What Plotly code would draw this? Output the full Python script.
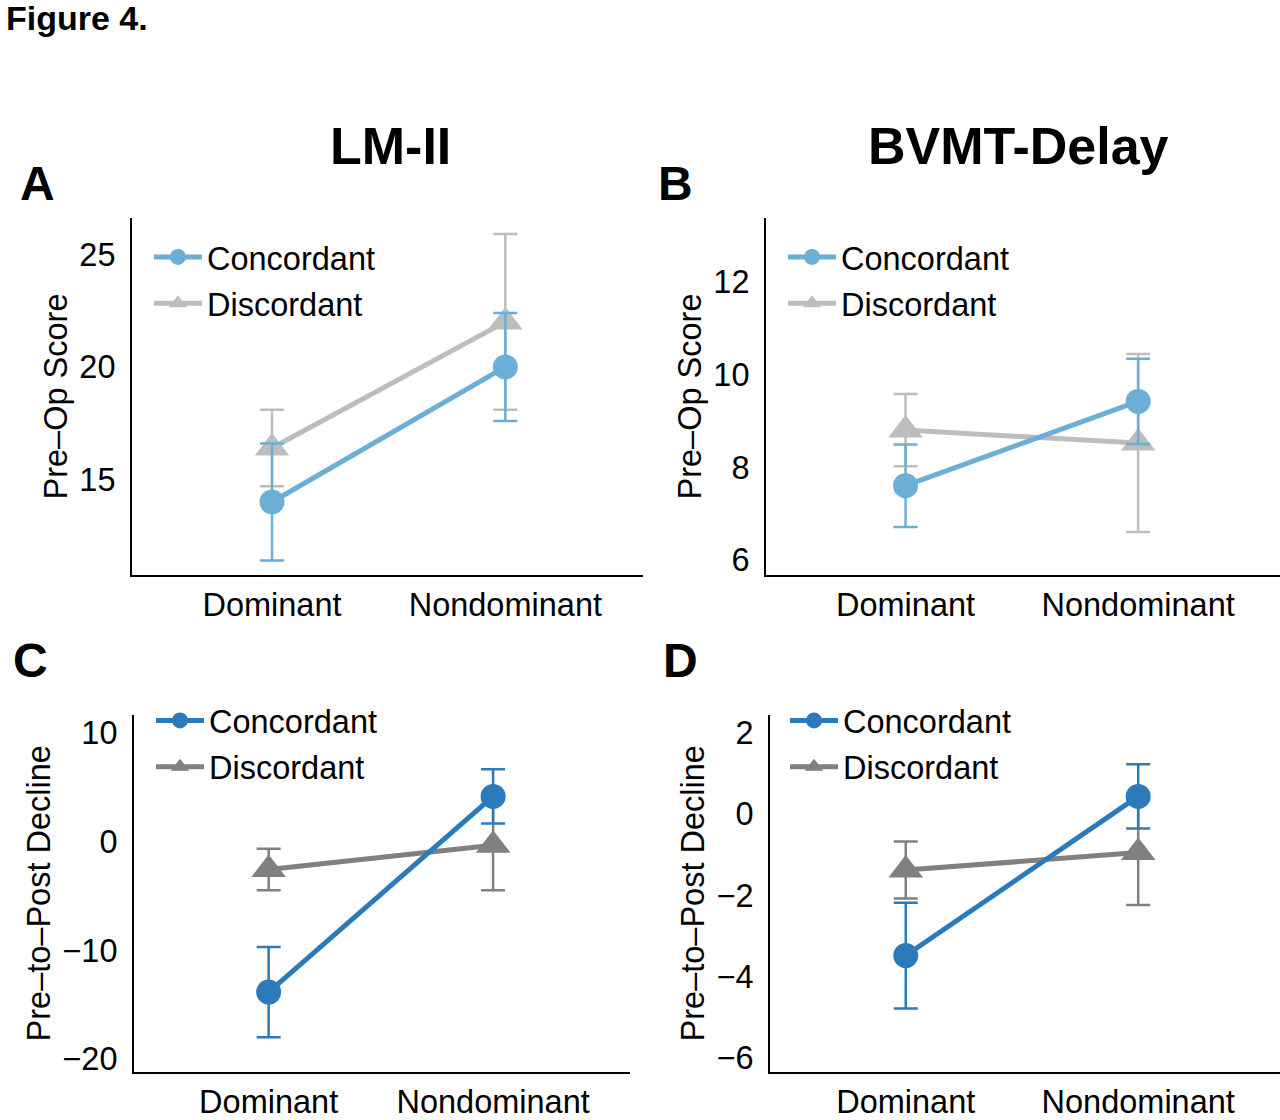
import plotly.graph_objects as go
from plotly.subplots import make_subplots

# data (mean and error bar half-width)
sides = ['Dominant', 'Nondominant']
groups = ['Concordant', 'Discordant']

lm_pre_conc = [14.0, 20.0]
lm_pre_conc_err = [2.6, 2.4]
lm_pre_disc = [16.4, 22.0]
lm_pre_disc_err = [1.7, 3.9]

bv_pre_conc = [7.6, 9.42]
bv_pre_conc_err = [0.89, 0.92]
bv_pre_disc = [8.8, 8.52]
bv_pre_disc_err = [0.78, 1.92]

lm_dec_conc = [-13.85, 4.17]
lm_dec_conc_err = [4.15, 2.5]
lm_dec_disc = [-2.56, -0.32]
lm_dec_disc_err = [1.92, 4.16]

bv_dec_conc = [-3.48, 0.43]
bv_dec_conc_err = [1.3, 0.79]
bv_dec_disc = [-1.38, -0.95]
bv_dec_disc_err = [0.7, 1.29]

ticks_a = [15, 20, 25]
ticks_b = [6, 8, 10, 12]
ticks_c = [-20, -10, 0, 10]
ticks_d = [-6, -4, -2, 0, 2]

LIGHT_BLUE = '#6BAED6'
LIGHT_GRAY = '#BDBDBD'
DARK_BLUE = '#2B7BBA'
DARK_GRAY = '#808080'

FONT = 'Liberation Sans, Arial, sans-serif'
FS = 32.5
W, H = 1280, 1120


def px(p):
    return p / W


def py(p):
    # small stretch so the rows land where the reference has them
    return 1 - min(p * 1.006, H) / H


fig = make_subplots(rows=2, cols=2)


def add_pair(row, col, conc, conc_err, disc, disc_err, c_col, d_col, legend):
    fig.add_trace(go.Scatter(
        x=sides, y=disc, name=groups[1], mode='lines+markers',
        line=dict(color=d_col, width=5),
        marker=dict(symbol='triangle-up', size=30, color=d_col),
        error_y=dict(type='data', array=disc_err, color=d_col, thickness=2.5, width=12),
        legend=legend, legendrank=2, legendgroup='d'), row=row, col=col)
    fig.add_trace(go.Scatter(
        x=sides, y=conc, name=groups[0], mode='lines+markers',
        line=dict(color=c_col, width=5),
        marker=dict(symbol='circle', size=25, color=c_col),
        error_y=dict(type='data', array=conc_err, color=c_col, thickness=2.5, width=12),
        legend=legend, legendrank=1, legendgroup='c'), row=row, col=col)


add_pair(1, 1, lm_pre_conc, lm_pre_conc_err, lm_pre_disc, lm_pre_disc_err, LIGHT_BLUE, LIGHT_GRAY, 'legend')
add_pair(1, 2, bv_pre_conc, bv_pre_conc_err, bv_pre_disc, bv_pre_disc_err, LIGHT_BLUE, LIGHT_GRAY, 'legend2')
add_pair(2, 1, lm_dec_conc, lm_dec_conc_err, lm_dec_disc, lm_dec_disc_err, DARK_BLUE, DARK_GRAY, 'legend3')
add_pair(2, 2, bv_dec_conc, bv_dec_conc_err, bv_dec_disc, bv_dec_disc_err, DARK_BLUE, DARK_GRAY, 'legend4')

# panel boxes in pixels: (left, right, top, bottom)
boxes = [(132, 643, 220, 579), (766, 1280, 220, 579),
         (134, 630, 720, 1080), (770, 1280, 720, 1080)]
xranges = [[-0.6, 1.59], [-0.6, 1.61], [-0.6, 1.61], [-0.584, 1.61]]
yranges = [[10.77, 26.6], [5.68, 13.37], [-21.2, 11.7], [-6.34, 2.44]]
yticks = [ticks_a, ticks_b, ticks_c, ticks_d]
ytitles = ['Pre–Op Score', 'Pre–Op Score', 'Pre–to–Post Decline', 'Pre–to–Post Decline']

for i, (l, r, t, b) in enumerate(boxes):
    sfx = '' if i == 0 else str(i + 1)
    fig.layout['xaxis' + sfx].update(
        domain=[px(l), px(r)], type='category', range=xranges[i],
        showline=True, linecolor='black', linewidth=2, showgrid=False, zeroline=False,
        ticks='', ticklabelstandoff=0, tickfont=dict(size=FS, color='black', family=FONT))
    fig.layout['yaxis' + sfx].update(
        domain=[py(b), py(t)], range=yranges[i], tickvals=yticks[i],
        showline=True, linecolor='black', linewidth=2, showgrid=False, zeroline=False,
        ticks='', ticklabelstandoff=8, tickfont=dict(size=FS, color='black', family=FONT),
        title=dict(text=ytitles[i], font=dict(size=FS, color='black', family=FONT), standoff=2))

leg_style = dict(font=dict(size=FS, color='black', family=FONT), bgcolor='rgba(0,0,0,0)',
                 xanchor='left', yanchor='top', tracegroupgap=1, itemwidth=48)
fig.update_layout(
    legend=dict(x=px(149), y=py(231), **leg_style),
    legend2=dict(x=px(783), y=py(231), **leg_style),
    legend3=dict(x=px(151), y=py(698), **leg_style),
    legend4=dict(x=px(785), y=py(698), **leg_style),
)

ann = [
    ('Figure 4.', 4, 18, 34, 'left'),
    ('LM-II', 390, 147, 52, 'center'),
    ('BVMT-Delay', 1018, 147, 52, 'center'),
    ('A', 18, 185, 48, 'left'),
    ('B', 656, 185, 48, 'left'),
    ('C', 11, 665, 48, 'left'),
    ('D', 661, 665, 48, 'left'),
]
for text, x, y, size, anchor in ann:
    fig.add_annotation(text='<b>%s</b>' % text, x=px(x), y=py(y), xref='paper', yref='paper',
                       xanchor=anchor, yanchor='middle', showarrow=False,
                       font=dict(size=size, color='black', family=FONT))

fig.update_layout(width=W, height=H, margin=dict(l=0, r=0, t=0, b=0),
                  paper_bgcolor='white', plot_bgcolor='white')

# drop the browser's default body margin so the figure fills the window
fig.write_html("out.html", config={'displayModeBar': False},
               post_script="document.body.style.margin = '0';")
